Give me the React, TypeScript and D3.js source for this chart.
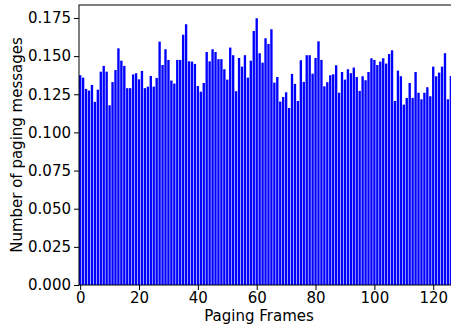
import React, { useEffect, useRef } from "react";
import * as d3 from "d3";

// paging frame index 0..126 (frame 127 falls outside the cropped picture)
const pagingMessages = [
  0.1375, 0.1359, 0.1285, 0.1274, 0.1311, 0.12, 0.128, 0.1398, 0.1436, 0.1398,
  0.1178, 0.133, 0.1409, 0.1551, 0.147, 0.1436, 0.129, 0.129, 0.138, 0.1388,
  0.1348, 0.1403, 0.129, 0.13, 0.137, 0.13, 0.1357, 0.1595, 0.1442, 0.1545,
  0.1475, 0.134, 0.132, 0.1475, 0.1475, 0.164, 0.1709, 0.1466, 0.1464, 0.1449,
  0.1304, 0.1267, 0.1324, 0.1527, 0.1466, 0.1545, 0.1527, 0.148, 0.148, 0.1414,
  0.1346, 0.1556, 0.1506, 0.127, 0.1488, 0.1431, 0.1506, 0.1359, 0.147, 0.1665,
  0.1748, 0.1519, 0.1457, 0.1617, 0.158, 0.1676, 0.1326, 0.1363, 0.1202, 0.1232,
  0.1263, 0.116, 0.1383, 0.1318, 0.1206, 0.1473, 0.1331, 0.1506, 0.1506, 0.1385,
  0.1488, 0.1597, 0.1475, 0.1302, 0.1329, 0.1375, 0.1381, 0.144, 0.126, 0.1396,
  0.1346, 0.1414, 0.1388, 0.1425, 0.1363, 0.1272, 0.1368, 0.1342, 0.1396, 0.1486,
  0.1475, 0.1442, 0.1464, 0.1486, 0.1451, 0.1514, 0.1538, 0.1206, 0.1405, 0.1368,
  0.1182, 0.1226, 0.1324, 0.1226, 0.1396, 0.126, 0.1217, 0.126, 0.1296, 0.1237,
  0.1431, 0.1368, 0.1392, 0.1431, 0.1519, 0.1217, 0.137,
];
const xTicks = [0, 20, 40, 60, 80, 100, 120];
const yTicks = [0, 0.025, 0.05, 0.075, 0.1, 0.125, 0.15, 0.175];

const W = 451;
const H = 329;

const App = () => {
  const svgRef = useRef<SVGSVGElement>(null);

  useEffect(() => {
    const svg = d3.select(svgRef.current);
    svg.selectAll("*").remove();

    const left = 79;
    const top = 5;
    const bottom = 285;
    const right = 455; // axes run past the cropped edge

    const x = d3.scaleLinear().domain([-0.4, 127.4]).range([left, right]);
    const y = d3.scaleLinear().domain([0, 0.1835]).range([bottom, top]);
    const barW = x(0.8) - x(0);

    // bars
    svg
      .append("g")
      .selectAll("rect")
      .data(pagingMessages)
      .join("rect")
      .attr("x", (d, i) => x(i - 0.4))
      .attr("y", (d) => y(d))
      .attr("width", barW)
      .attr("height", (d) => y(0) - y(d))
      .attr("fill", "#0000ff");

    // frame
    svg
      .append("rect")
      .attr("x", left)
      .attr("y", top)
      .attr("width", right - left)
      .attr("height", bottom - top)
      .attr("fill", "none")
      .attr("stroke", "#000")
      .attr("stroke-width", 1);

    const font = "DejaVu Sans, sans-serif";

    // y axis
    const yAxis = svg
      .append("g")
      .attr("transform", `translate(${left},0)`)
      .call(
        d3
          .axisLeft(y)
          .tickValues(yTicks)
          .tickFormat(d3.format(".3f"))
          .tickSize(5)
          .tickPadding(3)
      );
    yAxis.select(".domain").remove();

    // x axis
    const xAxis = svg
      .append("g")
      .attr("transform", `translate(0,${bottom})`)
      .call(d3.axisBottom(x).tickValues(xTicks).tickFormat(d3.format("d")).tickSize(5).tickPadding(2));
    xAxis.select(".domain").remove();

    svg
      .selectAll(".tick text")
      .attr("font-family", font)
      .attr("font-size", 15)
      .attr("fill", "#000");
    svg.selectAll(".tick line").attr("stroke", "#000");

    // axis labels
    svg
      .append("text")
      .attr("x", 259)
      .attr("y", 321)
      .attr("text-anchor", "middle")
      .attr("font-family", font)
      .attr("font-size", 15)
      .text("Paging Frames");

    svg
      .append("text")
      .attr("transform", `translate(22,${(top + bottom) / 2}) rotate(-90)`)
      .attr("text-anchor", "middle")
      .attr("font-family", font)
      .attr("font-size", 15)
      .text("Number of paging messages");
  }, []);

  return (
    <svg
      ref={svgRef}
      width={W}
      height={H}
      style={{ position: "absolute", left: 0, top: 0, background: "#fff" }}
    />
  );
};

export default App;
